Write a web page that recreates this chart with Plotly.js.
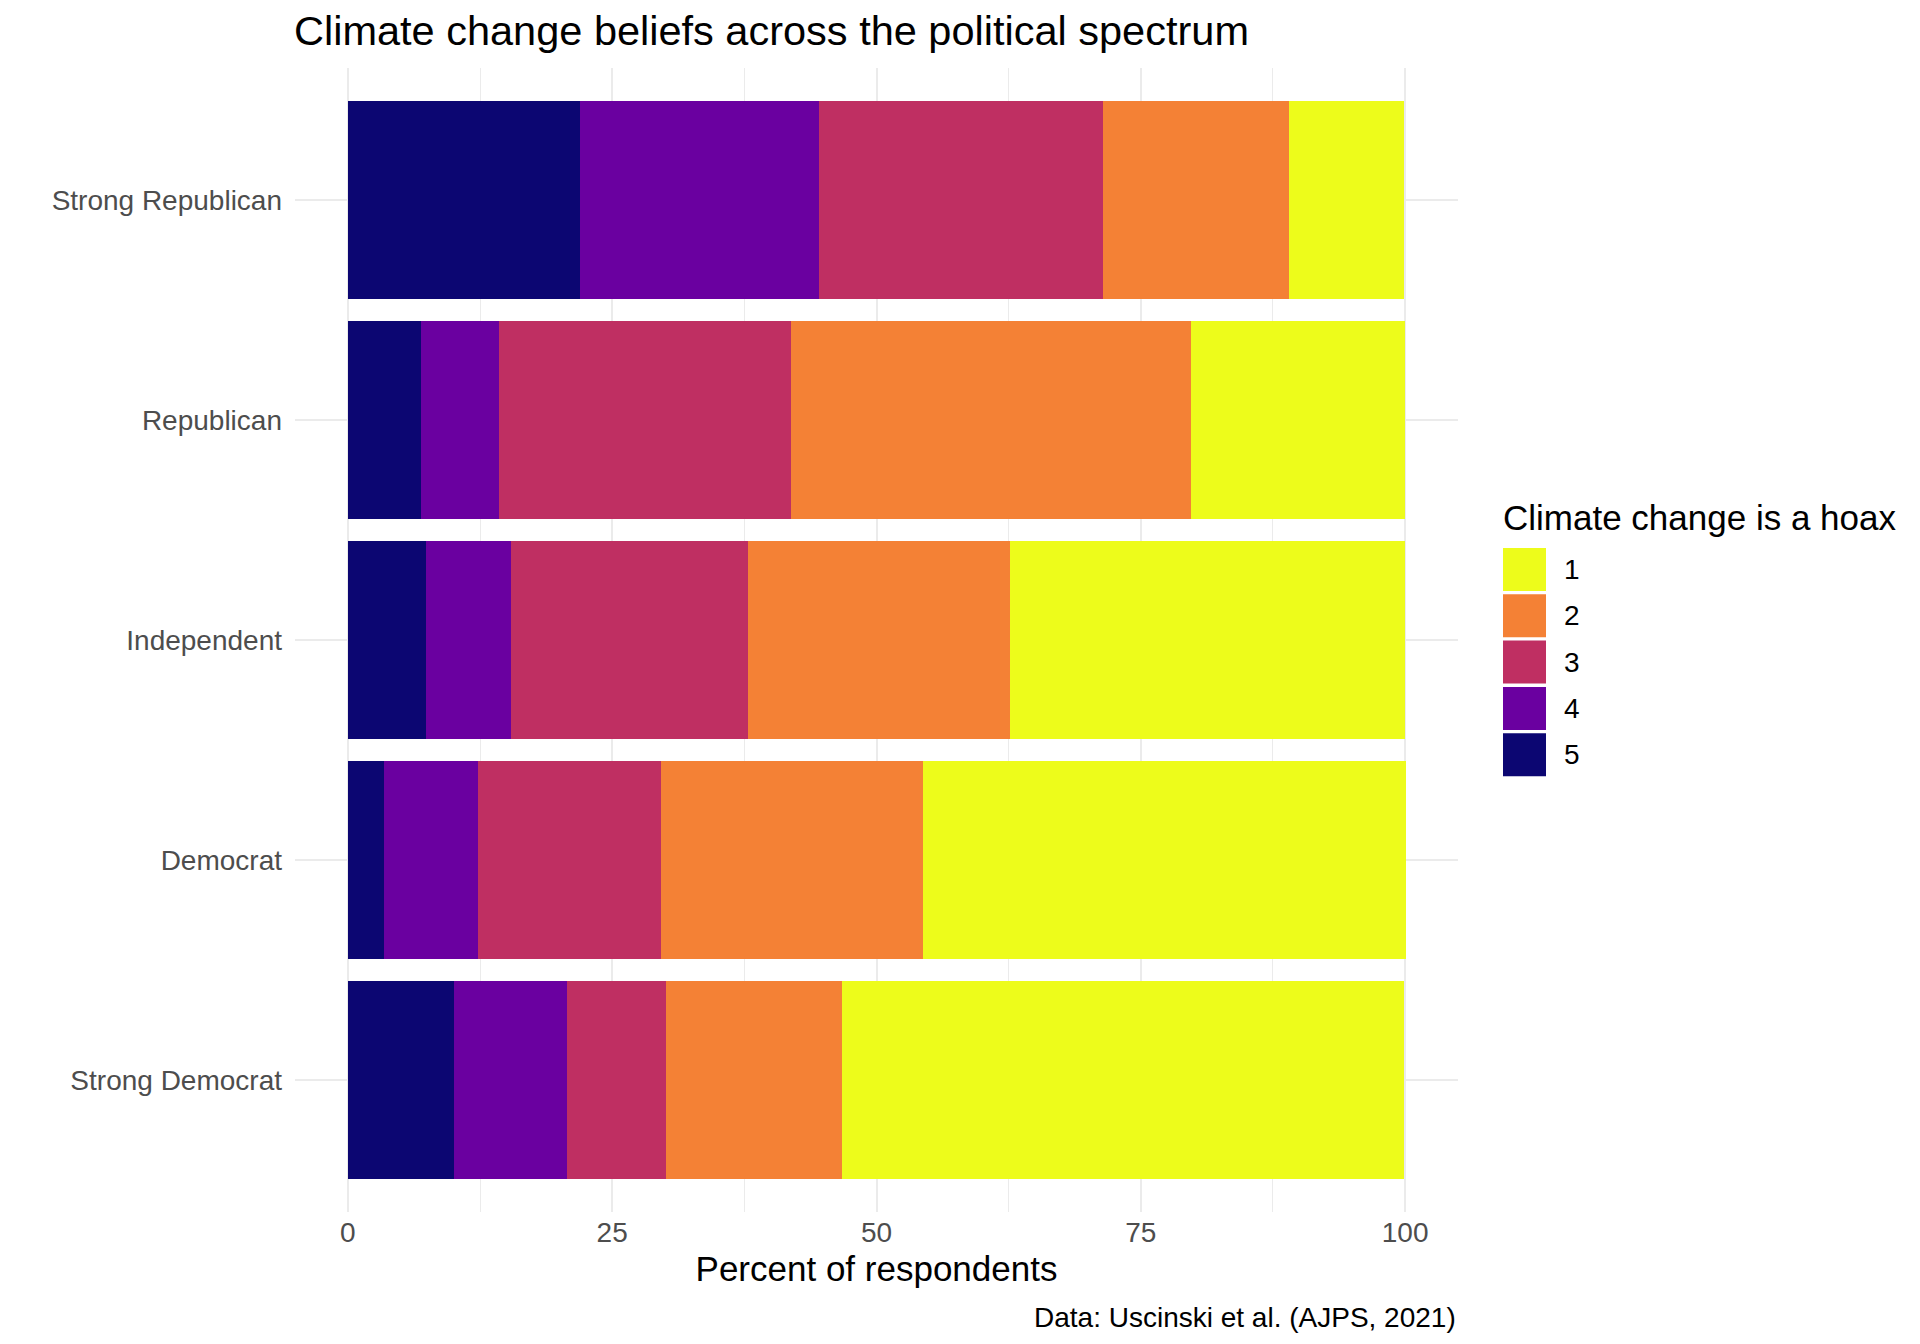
<!DOCTYPE html>
<html>
<head>
<meta charset="utf-8">
<script src="https://cdn.plot.ly/plotly-3.0.1.min.js"></script>
<style>html,body{margin:0;padding:0;background:#fff;}#chart{width:1920px;height:1344px;}</style>
</head>
<body>
<div id="chart"></div>
<script>
// Categories (bottom to top in the plot)
const groups = ["Strong Democrat", "Democrat", "Independent", "Republican", "Strong Republican"];
// Response levels "Climate change is a hoax"
const levels = ["1", "2", "3", "4", "5"];
const levelColors = ["#EDFC1B", "#F48135", "#BF2F62", "#6A00A0", "#0C0672"];
// Percent of respondents per level, same order as groups
const pct1 = [53.2, 45.7, 37.4, 20.3, 10.9];
const pct2 = [16.6, 24.8, 24.8, 37.8, 17.6];
const pct3 = [9.4, 17.3, 22.4, 27.6, 26.8];
const pct4 = [10.7, 8.9, 8.0, 7.4, 22.6];
const pct5 = [10.0, 3.4, 7.4, 6.9, 22.0];
const xTicks = [0, 25, 50, 75, 100];

const series = [pct1, pct2, pct3, pct4, pct5];
const FONT = "Liberation Sans, Arial, Helvetica, sans-serif";

const W = 1920, H = 1344;
const L = 295, R = 1458, T = 68, B = 1212;
const px2x = p => (p - L) / (R - L);
const px2y = p => (B - p) / (B - T);

// Stack order: level 5 on the left, level 1 on the right
const traces = [];
for (let i = levels.length - 1; i >= 0; i--) {
  traces.push({
    type: "bar",
    orientation: "h",
    name: levels[i],
    y: groups,
    x: series[i],
    marker: {color: levelColors[i], line: {width: 0}},
    showlegend: false,
    hovertemplate: "%{y}<br>" + levels[i] + ": %{x}%<extra></extra>"
  });
}

// Manual legend (ggplot-style square keys)
const shapes = [];
const annotations = [];
const keyX0 = 1503, keySize = 43, keyTop0 = 548, keyStep = 46.3;
annotations.push({
  xref: "paper", yref: "paper", x: px2x(1501), y: px2y(517),
  xanchor: "left", yanchor: "middle", showarrow: false,
  text: "Climate change is a hoax", font: {family: FONT, size: 35, color: "#000"}
});
levels.forEach((lv, i) => {
  const top = keyTop0 + i * keyStep;
  shapes.push({
    type: "rect", xref: "paper", yref: "paper",
    x0: px2x(keyX0), x1: px2x(keyX0 + keySize),
    y0: px2y(top + keySize), y1: px2y(top),
    fillcolor: levelColors[i], line: {width: 0}, layer: "above"
  });
  annotations.push({
    xref: "paper", yref: "paper", x: px2x(1562), y: px2y(top + keySize / 2),
    xanchor: "left", yanchor: "middle", showarrow: false,
    text: lv, font: {family: FONT, size: 28, color: "#000"}
  });
});
// Caption
annotations.push({
  xref: "paper", yref: "paper", x: 1, y: px2y(1317),
  xanchor: "right", yanchor: "middle", showarrow: false,
  text: "Data: Uscinski et al. (AJPS, 2021)", font: {family: FONT, size: 28, color: "#000"}
});

const layout = {
  width: W, height: H,
  margin: {l: L, r: W - R, t: T, b: H - B, pad: 0},
  paper_bgcolor: "#fff", plot_bgcolor: "#fff",
  font: {family: FONT, color: "#000"},
  barmode: "stack",
  bargap: 0.1,
  showlegend: false,
  title: {
    text: "Climate change beliefs across the political spectrum",
    xref: "container", yref: "container",
    x: 294 / W, xanchor: "left",
    y: 1 - 30 / H, yanchor: "middle",
    font: {family: FONT, size: 41.5, color: "#000"}
  },
  xaxis: {
    range: [-5, 105],
    tickvals: xTicks,
    ticktext: xTicks.map(String),
    showgrid: true, gridcolor: "#EBEBEB", gridwidth: 2.2,
    minor: {dtick: 12.5, showgrid: true, gridcolor: "#EBEBEB", gridwidth: 1.1},
    zeroline: false, showline: false, ticks: "",
    ticklabelstandoff: 1,
    tickfont: {family: FONT, size: 28, color: "#4D4D4D"},
    title: {text: "Percent of respondents", standoff: 9, font: {family: FONT, size: 35, color: "#000"}},
    automargin: false, fixedrange: true
  },
  yaxis: {
    type: "category",
    categoryorder: "array", categoryarray: groups,
    range: [-0.6, 4.6],
    showgrid: true, gridcolor: "#EBEBEB", gridwidth: 2.2,
    zeroline: false, showline: false, ticks: "",
    ticklabelstandoff: 12,
    tickfont: {family: FONT, size: 28, color: "#4D4D4D"},
    automargin: false, fixedrange: true
  },
  shapes: shapes,
  annotations: annotations
};

Plotly.newPlot("chart", traces, layout, {displayModeBar: false});
</script>
</body>
</html>
